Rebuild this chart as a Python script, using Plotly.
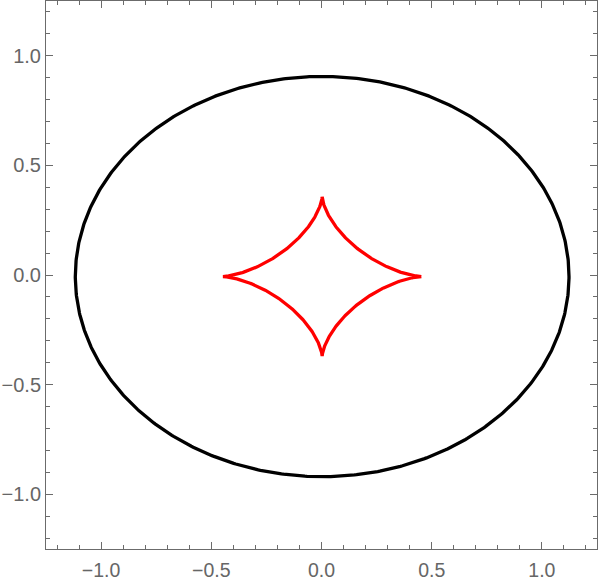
import numpy as np
import plotly.graph_objects as go

# Curve parameters
ellipse_a = 1.12      # black ellipse, x semi-axis
ellipse_b = 0.913     # black ellipse, y semi-axis
astroid_a = 0.45      # red astroid, x cusp
astroid_b = 0.363     # red astroid, y cusp
center_x = 0.003
center_y = -0.007

tick_vals = [-1.0, -0.5, 0.0, 0.5, 1.0]
tick_text = ["\u22121.0", "\u22120.5", "0.0", "0.5", "1.0"]

t = np.linspace(0, 2 * np.pi, 721)
ex = center_x + ellipse_a * np.cos(t)
ey = center_y + ellipse_b * np.sin(t)
ax_ = center_x + astroid_a * np.cos(t) ** 3
ay_ = center_y + astroid_b * np.sin(t) ** 3

fig = go.Figure()
fig.add_trace(go.Scatter(x=ex, y=ey, mode="lines",
                         line=dict(color="black", width=3.3), hoverinfo="skip"))
fig.add_trace(go.Scatter(x=ax_, y=ay_, mode="lines",
                         line=dict(color="#ff0000", width=3.3), hoverinfo="skip"))

axis_common = dict(
    range=[-1.25, 1.25],
    automargin=False,
    showgrid=False, zeroline=False,
    showline=True, linecolor="#6b6b6b", linewidth=1,
    mirror="allticks",
    ticks="inside", ticklen=7, tickcolor="#6b6b6b", tickwidth=1,
    tickvals=tick_vals, ticktext=tick_text,
    minor=dict(ticks="inside", dtick=0.1, tick0=0, ticklen=4,
               tickcolor="#6b6b6b", tickwidth=1, showgrid=False),
)
label_font = dict(family="Liberation Sans, Arial, sans-serif", color="#666666")

fig.update_layout(
    width=600, height=582,
    margin=dict(l=46, r=3, t=1, b=33, pad=0, autoexpand=False),
    paper_bgcolor="white", plot_bgcolor="white",
    showlegend=False,
    xaxis=dict(**axis_common, ticklabelstandoff=4, tickfont=dict(**label_font, size=19.5)),
    yaxis=dict(**axis_common, ticklabelstandoff=0, tickfont=dict(**label_font, size=20)),
)

fig.write_html(
    "out.html",
    config={"displayModeBar": False},
    post_script="document.body.style.margin='0px';document.body.style.padding='0px';",
)
